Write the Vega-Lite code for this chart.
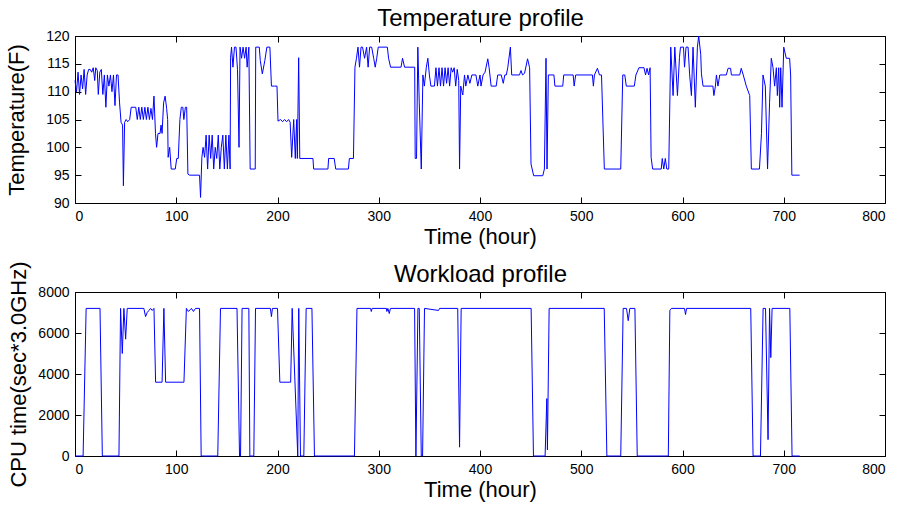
{
  "$schema": "https://vega.github.io/schema/vega-lite/v6.json",
  "padding": {"left": 5, "top": 6, "right": 14, "bottom": 2},
  "spacing": 89,
  "bounds": "flush",
  "config": {
    "font": "Liberation Sans",
    "view": {"stroke": "black", "strokeWidth": 1},
    "axis": {"grid": false, "domain": false, "tickColor": "black", "tickSize": -6, "labelPadding": 12, "labelFontSize": 14, "labelColor": "black", "titleFontSize": 22, "titleFontWeight": "normal", "titleColor": "black", "labelFont": "Liberation Sans", "titleFont": "Liberation Sans"},
    "line": {"color": "#0000ff", "strokeWidth": 1}
  },
  "vconcat": [
    {
      "width": 810,
      "height": 167,
      "data": {"values": [
        {"h":0,"t":112},{"h":1.5,"t":110},{"h":3,"t":113.5},{"h":4.5,"t":109.5},{"h":6,"t":113},{"h":7.5,"t":110.5},{"h":9,"t":114},{"h":10.5,"t":109.5},{"h":12,"t":113},{"h":13.5,"t":114},{"h":15,"t":114},{"h":16.5,"t":113.5},{"h":18,"t":114.3},{"h":19.5,"t":112},{"h":20.5,"t":114.3},{"h":22,"t":113.8},{"h":23,"t":109.5},{"h":24.5,"t":113.5},{"h":26,"t":114},{"h":27.5,"t":109.5},{"h":29,"t":113},{"h":30.5,"t":107.2},{"h":32,"t":113},{"h":33.5,"t":111},{"h":35,"t":113},{"h":36.5,"t":110},{"h":38,"t":113},{"h":39.5,"t":107.5},{"h":41,"t":113},{"h":42.5,"t":113},{"h":44,"t":108},{"h":45.5,"t":104.5},{"h":47,"t":104},{"h":47.8,"t":93.1},{"h":49,"t":104.5},{"h":50.5,"t":105},{"h":52,"t":104.6},{"h":54,"t":105},{"h":55.5,"t":107.2},{"h":60,"t":107.2},{"h":61.5,"t":105},{"h":63,"t":107.2},{"h":64.5,"t":105},{"h":66,"t":107.2},{"h":67.5,"t":105},{"h":69,"t":107.2},{"h":70.5,"t":105},{"h":72,"t":107.2},{"h":73.5,"t":105},{"h":75,"t":107},{"h":76.5,"t":105},{"h":78,"t":109.2},{"h":79.5,"t":102.5},{"h":80.6,"t":100},{"h":82,"t":102.5},{"h":84,"t":102.5},{"h":85,"t":104},{"h":86,"t":102.5},{"h":87.5,"t":108},{"h":89,"t":109.2},{"h":90.5,"t":107},{"h":91.5,"t":105},{"h":92,"t":98.2},{"h":93.5,"t":100},{"h":95,"t":96.1},{"h":99,"t":96.1},{"h":100.5,"t":98},{"h":102,"t":98},{"h":103.6,"t":105},{"h":105,"t":107.2},{"h":106.5,"t":107.2},{"h":107.5,"t":105},{"h":109,"t":107.2},{"h":110.3,"t":107.2},{"h":111.5,"t":95.2},{"h":113,"t":95},{"h":123,"t":95},{"h":124,"t":91},{"h":125.3,"t":98.2},{"h":126.5,"t":100},{"h":128,"t":98.2},{"h":129.5,"t":102.2},{"h":131,"t":96.1},{"h":132.5,"t":102.2},{"h":134,"t":98},{"h":135.5,"t":102.2},{"h":137,"t":96.1},{"h":138.5,"t":100},{"h":140,"t":98},{"h":141.5,"t":102.2},{"h":143,"t":96.1},{"h":144.5,"t":100},{"h":146,"t":102.2},{"h":147.5,"t":96.1},{"h":149,"t":102.2},{"h":150.5,"t":96.1},{"h":152,"t":102.2},{"h":153.2,"t":96.1},{"h":153.7,"t":116.2},{"h":154.6,"t":118},{"h":156,"t":114.4},{"h":157.5,"t":118},{"h":159,"t":118},{"h":160.5,"t":114},{"h":162,"t":100},{"h":163,"t":118},{"h":164.5,"t":116},{"h":166,"t":118},{"h":167.5,"t":116},{"h":169,"t":118},{"h":170,"t":114.4},{"h":171.7,"t":118},{"h":173,"t":96.1},{"h":178,"t":96.1},{"h":178.5,"t":118},{"h":182,"t":118},{"h":183,"t":115.6},{"h":185,"t":113.2},{"h":187.5,"t":115.6},{"h":189.5,"t":118},{"h":192.5,"t":118},{"h":194,"t":111},{"h":197,"t":111},{"h":199.5,"t":111},{"h":200.5,"t":104.7},{"h":203,"t":105},{"h":205,"t":104.6},{"h":207,"t":105},{"h":209,"t":104.6},{"h":211,"t":105},{"h":212.5,"t":104.5},{"h":214,"t":98.2},{"h":216,"t":105},{"h":217.6,"t":98},{"h":218.9,"t":105},{"h":219.6,"t":98},{"h":220.9,"t":116.1},{"h":222,"t":98},{"h":235,"t":98},{"h":235.7,"t":96.1},{"h":249.8,"t":96.1},{"h":250.5,"t":98},{"h":256,"t":98},{"h":257.5,"t":96.1},{"h":270,"t":96.1},{"h":271,"t":98},{"h":275,"t":98},{"h":276.5,"t":114.4},{"h":278,"t":116},{"h":279.5,"t":118},{"h":281,"t":114.4},{"h":282.5,"t":118},{"h":284,"t":118},{"h":286,"t":116},{"h":288,"t":118},{"h":289.5,"t":114.4},{"h":291,"t":118},{"h":293,"t":118},{"h":295,"t":116},{"h":296.5,"t":114.4},{"h":298,"t":116},{"h":299.5,"t":118},{"h":308.5,"t":118},{"h":309.7,"t":116},{"h":311.7,"t":114.4},{"h":322,"t":114.4},{"h":323.5,"t":116},{"h":325.5,"t":114.4},{"h":335.5,"t":114.4},{"h":336,"t":98},{"h":337.3,"t":98},{"h":338.6,"t":118},{"h":340,"t":108},{"h":342,"t":96.1},{"h":343.6,"t":113},{"h":345,"t":111},{"h":347,"t":114.4},{"h":348.5,"t":116},{"h":350,"t":113},{"h":351.5,"t":111},{"h":355,"t":111},{"h":356.5,"t":114.3},{"h":358,"t":111},{"h":359.5,"t":114.3},{"h":361,"t":111},{"h":362.5,"t":114.3},{"h":364,"t":111},{"h":365.5,"t":114.3},{"h":367,"t":111.5},{"h":368.5,"t":114.3},{"h":370,"t":111},{"h":371.5,"t":114.3},{"h":373,"t":113.5},{"h":374.5,"t":114.3},{"h":376,"t":111},{"h":377.5,"t":114},{"h":379,"t":112},{"h":379.8,"t":96.1},{"h":381,"t":111},{"h":383,"t":109.4},{"h":384.7,"t":113},{"h":386,"t":111},{"h":388,"t":113},{"h":390,"t":111.5},{"h":392,"t":113},{"h":396,"t":113},{"h":397.8,"t":111},{"h":400,"t":113},{"h":401,"t":111},{"h":403,"t":113},{"h":405,"t":113.5},{"h":407.7,"t":115.9},{"h":409,"t":114.3},{"h":411,"t":111},{"h":416,"t":111},{"h":417.5,"t":113},{"h":421,"t":113},{"h":423,"t":111.5},{"h":424.5,"t":113},{"h":426,"t":113},{"h":427.4,"t":114.3},{"h":430,"t":118},{"h":431.3,"t":113},{"h":439,"t":113},{"h":440.5,"t":113.8},{"h":442,"t":113},{"h":444,"t":113.3},{"h":447,"t":115.9},{"h":449,"t":114.3},{"h":450.4,"t":97},{"h":453,"t":94.9},{"h":462,"t":94.9},{"h":463.6,"t":96.1},{"h":465.2,"t":116},{"h":466.2,"t":96.1},{"h":467.5,"t":113},{"h":473,"t":113},{"h":474,"t":111},{"h":481.7,"t":111},{"h":482.7,"t":113},{"h":492,"t":113},{"h":493,"t":111},{"h":494.5,"t":113},{"h":511,"t":113},{"h":512,"t":111},{"h":513,"t":113},{"h":516,"t":114.2},{"h":518,"t":113},{"h":520,"t":113},{"h":522.8,"t":96.1},{"h":539,"t":96.1},{"h":541,"t":113},{"h":543,"t":113},{"h":544.5,"t":111},{"h":552.4,"t":111},{"h":554,"t":113},{"h":557,"t":114.3},{"h":562,"t":114.3},{"h":563.5,"t":113},{"h":565,"t":114.2},{"h":566.5,"t":113},{"h":568,"t":114.3},{"h":569,"t":98.2},{"h":570.5,"t":96.1},{"h":579,"t":96.1},{"h":580,"t":98},{"h":581.5,"t":96.1},{"h":583,"t":98},{"h":584.5,"t":96.1},{"h":586.4,"t":96.1},{"h":588.4,"t":118},{"h":590.7,"t":109.3},{"h":592.4,"t":118},{"h":595,"t":109.3},{"h":597,"t":116.1},{"h":598,"t":118},{"h":601,"t":118},{"h":602,"t":114.4},{"h":603.5,"t":118},{"h":605.5,"t":118},{"h":607,"t":113.2},{"h":608.8,"t":109.3},{"h":610.4,"t":118},{"h":612.7,"t":107.2},{"h":614.7,"t":118},{"h":616,"t":120},{"h":618,"t":116.7},{"h":618.7,"t":113.2},{"h":620.3,"t":111},{"h":630,"t":111},{"h":631,"t":109.3},{"h":632.5,"t":111},{"h":633.5,"t":113},{"h":635,"t":111},{"h":636.8,"t":113},{"h":643.3,"t":113},{"h":645,"t":114.2},{"h":647.5,"t":114.2},{"h":648.3,"t":113},{"h":656.5,"t":113},{"h":658,"t":114.2},{"h":660,"t":113},{"h":663,"t":111},{"h":666.4,"t":109.3},{"h":668,"t":96.1},{"h":676,"t":96.1},{"h":678,"t":102.5},{"h":679.5,"t":113},{"h":681.8,"t":111},{"h":684,"t":96.1},{"h":686,"t":108},{"h":687.7,"t":116},{"h":689.4,"t":114.3},{"h":691,"t":111},{"h":692.7,"t":114.3},{"h":693.7,"t":109.3},{"h":695,"t":114.3},{"h":696,"t":107.2},{"h":697,"t":114.3},{"h":698.3,"t":107.2},{"h":700,"t":118},{"h":702.5,"t":116},{"h":705.8,"t":116},{"h":706.8,"t":113},{"h":708,"t":95},{"h":715.7,"t":95}
      ]},
      "layer": [
        {
          "mark": "line",
          "encoding": {
            "x": {"field": "h", "type": "quantitative", "scale": {"domain": [0, 800], "nice": false}, "axis": {"values": [0,100,200,300,400,500,600,700,800], "title": "Time (hour)", "titlePadding": 3}},
            "y": {"field": "t", "type": "quantitative", "scale": {"domain": [90, 120], "nice": false, "zero": false}, "axis": {"values": [90,95,100,105,110,115,120], "title": "Temperature(F)", "titlePadding": 17}}
          }
        },
        {
          "mark": {"type": "line", "strokeOpacity": 0},
          "encoding": {
            "x": {"field": "h", "type": "quantitative", "axis": {"orient": "top", "labels": false, "title": "Temperature profile", "titleFontSize": 24, "titleBaseline": "alphabetic", "titlePadding": 10, "values": [0,100,200,300,400,500,600,700,800]}},
            "y": {"field": "t", "type": "quantitative", "axis": {"orient": "right", "labels": false, "title": null, "values": [90,95,100,105,110,115,120]}}
          }
        }
      ],
      "resolve": {"axis": {"x": "independent", "y": "independent"}}
    },
    {
      "width": 810,
      "height": 164,
      "data": {"values": [
        {"h":0,"c":0},{"h":8,"c":0},{"h":11,"c":7200},{"h":24.7,"c":7200},{"h":27,"c":0},{"h":43.4,"c":0},{"h":45,"c":7200},{"h":46.7,"c":5000},{"h":48.3,"c":7200},{"h":50,"c":5700},{"h":51.6,"c":7200},{"h":68,"c":7200},{"h":69.7,"c":6800},{"h":71.3,"c":7000},{"h":73,"c":7100},{"h":74.6,"c":7200},{"h":76.3,"c":7100},{"h":78,"c":7200},{"h":79.6,"c":3600},{"h":86,"c":3600},{"h":87.8,"c":7200},{"h":89.5,"c":3600},{"h":107.6,"c":3600},{"h":110,"c":7200},{"h":112,"c":7050},{"h":115,"c":7200},{"h":117,"c":7050},{"h":119,"c":7200},{"h":123,"c":7200},{"h":124.6,"c":0},{"h":141,"c":0},{"h":143.7,"c":7200},{"h":160,"c":7200},{"h":162.5,"c":0},{"h":163.5,"c":0},{"h":165,"c":7200},{"h":171.7,"c":7200},{"h":172.7,"c":0},{"h":176.6,"c":0},{"h":178.3,"c":7200},{"h":193,"c":7200},{"h":194,"c":6800},{"h":195,"c":7200},{"h":200,"c":7200},{"h":202.3,"c":3600},{"h":213,"c":3600},{"h":214.5,"c":7200},{"h":220,"c":0},{"h":221,"c":7200},{"h":222.7,"c":0},{"h":226,"c":0},{"h":228.3,"c":7200},{"h":234,"c":7200},{"h":236.5,"c":0},{"h":276,"c":0},{"h":278.5,"c":7200},{"h":292,"c":7200},{"h":292.6,"c":7050},{"h":293.5,"c":7200},{"h":307.5,"c":7200},{"h":308,"c":7050},{"h":309,"c":7200},{"h":310.4,"c":6950},{"h":311.5,"c":7200},{"h":335.4,"c":7200},{"h":336.7,"c":0},{"h":338.7,"c":7200},{"h":340,"c":7200},{"h":342,"c":0},{"h":343.3,"c":0},{"h":345.2,"c":7200},{"h":359,"c":7100},{"h":360,"c":7200},{"h":378,"c":7200},{"h":379.8,"c":430},{"h":381.4,"c":7200},{"h":450.5,"c":7200},{"h":452.8,"c":0},{"h":464.3,"c":0},{"h":466,"c":2800},{"h":466.6,"c":300},{"h":468.3,"c":7200},{"h":522.7,"c":7200},{"h":525.3,"c":0},{"h":539,"c":0},{"h":541.4,"c":7200},{"h":544.7,"c":7200},{"h":546.4,"c":6600},{"h":548,"c":7200},{"h":553,"c":7200},{"h":555.3,"c":0},{"h":586,"c":0},{"h":587.5,"c":7100},{"h":589,"c":7200},{"h":602,"c":7200},{"h":603,"c":6900},{"h":604,"c":7200},{"h":667.4,"c":7200},{"h":669.7,"c":0},{"h":677,"c":0},{"h":679.6,"c":7200},{"h":682,"c":7200},{"h":684.5,"c":800},{"h":686,"c":7200},{"h":687.2,"c":4800},{"h":688.5,"c":7200},{"h":706,"c":7200},{"h":708.2,"c":0},{"h":715.8,"c":0}
      ]},
      "layer": [
        {
          "mark": "line",
          "encoding": {
            "x": {"field": "h", "type": "quantitative", "scale": {"domain": [0, 800], "nice": false}, "axis": {"values": [0,100,200,300,400,500,600,700,800], "title": "Time (hour)", "titlePadding": 3}},
            "y": {"field": "c", "type": "quantitative", "scale": {"domain": [0, 8000], "nice": false}, "axis": {"values": [0,2000,4000,6000,8000], "format": "d", "title": "CPU time(sec*3.0GHz)", "titlePadding": 7}}
          }
        },
        {
          "mark": {"type": "line", "strokeOpacity": 0},
          "encoding": {
            "x": {"field": "h", "type": "quantitative", "axis": {"orient": "top", "labels": false, "title": "Workload profile", "titleFontSize": 24, "titleBaseline": "alphabetic", "titlePadding": 10, "values": [0,100,200,300,400,500,600,700,800]}},
            "y": {"field": "c", "type": "quantitative", "axis": {"orient": "right", "labels": false, "title": null, "values": [0,2000,4000,6000,8000]}}
          }
        }
      ],
      "resolve": {"axis": {"x": "independent", "y": "independent"}}
    }
  ]
}
